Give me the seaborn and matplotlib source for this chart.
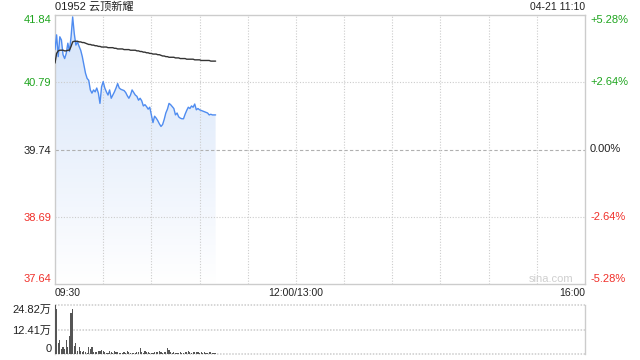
import numpy as np
import pandas as pd
import matplotlib
matplotlib.use("Agg")
import matplotlib.pyplot as plt
import seaborn as sns
from matplotlib.colors import LinearSegmentedColormap
from matplotlib.transforms import blended_transform_factory

# ---------------- data ----------------
title = "01952 云顶新耀"
stamp = "04-21 11:10"
prev_close = 39.74
price_ticks = [37.64, 38.69, 39.74, 40.79, 41.84]
price_tick_labels = ["37.64", "38.69", "39.74", "40.79", "41.84"]
pct_labels = ["-5.28%", "-2.64%", "0.00%", "+2.64%", "+5.28%"]
time_labels = ["09:30", "12:00/13:00", "16:00"]
session_minutes = 330
vol_ticks = [0, 12.41, 24.82]
vol_labels = ["0", "12.41万", "24.82万"]
watermark = "sina.com"

price = [41.30, 41.53, 41.19, 41.50, 41.45, 41.22, 41.16, 41.24, 41.40, 41.27,
         41.50, 41.81, 41.55, 41.37, 41.42, 41.35, 41.29, 41.19, 41.06, 40.93,
         40.85, 40.82, 40.67, 40.62, 40.67, 40.64, 40.70, 40.62, 40.46, 40.72,
         40.80, 40.70, 40.64, 40.59, 40.67, 40.54, 40.59, 40.64, 40.70, 40.77,
         40.70, 40.68, 40.67, 40.66, 40.63, 40.58, 40.54, 40.59, 40.67, 40.63,
         40.59, 40.57, 40.51, 40.54, 40.50, 40.42, 40.44, 40.41, 40.37, 40.40,
         40.28, 40.16, 40.26, 40.23, 40.19, 40.14, 40.10, 40.13, 40.21, 40.31,
         40.37, 40.46, 40.44, 40.41, 40.38, 40.28, 40.31, 40.25, 40.23, 40.22,
         40.22, 40.29, 40.35, 40.40, 40.38, 40.42, 40.40, 40.45, 40.36, 40.38,
         40.36, 40.35, 40.34, 40.33, 40.32, 40.31, 40.28, 40.29, 40.28, 40.28,
         40.28]

avg_price = [41.09, 41.24, 41.28, 41.29, 41.29, 41.29, 41.28, 41.28, 41.29, 41.29,
             41.35, 41.42, 41.43, 41.43, 41.43, 41.42, 41.42, 41.41, 41.41, 41.40,
             41.39, 41.38, 41.38, 41.37, 41.37, 41.36, 41.36, 41.35, 41.35, 41.34,
             41.34, 41.34, 41.34, 41.33, 41.33, 41.33, 41.33, 41.32, 41.32, 41.31,
             41.31, 41.31, 41.31, 41.30, 41.30, 41.30, 41.30, 41.29, 41.29, 41.29,
             41.29, 41.28, 41.28, 41.27, 41.27, 41.26, 41.26, 41.25, 41.25, 41.24,
             41.24, 41.23, 41.23, 41.23, 41.22, 41.22, 41.21, 41.20, 41.20, 41.19,
             41.19, 41.18, 41.18, 41.18, 41.18, 41.17, 41.17, 41.17, 41.16, 41.16,
             41.16, 41.16, 41.15, 41.15, 41.15, 41.15, 41.15, 41.14, 41.14, 41.14,
             41.14, 41.13, 41.13, 41.13, 41.13, 41.13, 41.13, 41.12, 41.12, 41.12,
             41.12]

volume = [24.8, 22.8, 5.5, 7.1, 2.5, 3.5, 2.5, 7.1, 3.3, 9.1,
          20.9, 22.8, 4.1, 5.8, 1.7, 3.3, 1.7, 1.2, 1.7, 1.2,
          0.5, 3.3, 2.5, 3.3, 1.2, 1.2, 1.2, 1.7, 1.7, 2.2,
          1.7, 0.8, 0.5, 0.5, 1.7, 0.8, 0.5, 1.7, 0.8, 1.2,
          0.3, 0.3, 0.5, 0.8, 0.3, 1.7, 0.8, 0.5, 0.5, 0.5,
          0.5, 1.2, 0.8, 2.8, 0.8, 0.5, 1.7, 0.8, 1.2, 0.3,
          0.5, 0.5, 0.8, 1.2, 0.8, 1.3, 0.8, 0.3, 0.8, 0.8,
          2.8, 2.2, 0.8, 0.5, 0.8, 0.5, 0.3, 0.5, 0.8, 0.5,
          0.5, 0.8, 0.8, 1.7, 0.8, 0.5, 0.8, 1.2, 0.8, 0.8,
          0.5, 1.2, 0.5, 0.8, 0.5, 0.5, 1.2, 0.8, 0.5, 0.3,
          0.5]

df = pd.DataFrame({"minute": np.arange(len(price)), "price": price,
                   "avg": avg_price, "volume": volume})

# ---------------- style ----------------
sns.set_theme(style="white")
FONT = ["Liberation Sans", "Noto Sans CJK SC", "DejaVu Sans"]
plt.rcParams["font.family"] = FONT
GREEN = "#1fa51f"
RED = "#f0302a"
DARK = "#222222"
GRID = "#cccccc"

fig = plt.figure(figsize=(6.4, 3.6), dpi=100)
W, H = 640, 360
ax = fig.add_axes([55 / W, 1 - 284 / H, 530 / W, 269 / H])
axv = fig.add_axes([55 / W, 1 - 354 / H, 530 / W, 49 / H])

ymin, ymax = price_ticks[0], price_ticks[-1]

# ---------------- price panel ----------------
poly = ax.fill_between(df["minute"], df["price"], ymin, color="none", lw=0)
grad = np.linspace(1, 0, 256).reshape(-1, 1)
cmap = LinearSegmentedColormap.from_list("g", ["#ffffff", "#eaf1fc", "#d5e4fa"])
im = ax.imshow(grad, extent=[df["minute"].min(), df["minute"].max(), ymin, max(price)],
               aspect="auto", cmap=cmap, origin="upper", zorder=1)
im.set_clip_path(poly.get_paths()[0], transform=ax.transData)

# grid
for t in price_ticks[1:-1]:
    if t == prev_close:
        ax.axhline(t, color="#b0b0b0", lw=0.8, ls=(0, (3, 2)), zorder=2)
    else:
        ax.axhline(t, color=GRID, lw=0.8, ls=(0, (1, 1.5)), zorder=2)
for m in range(30, session_minutes, 30):
    ax.axvline(m, color=GRID, lw=0.8, ls=(0, (1, 1.5)), zorder=2)

sns.lineplot(data=df, x="minute", y="price", ax=ax, color="#4f8cf0", lw=1.0, zorder=4)
sns.lineplot(data=df, x="minute", y="avg", ax=ax, color="#333333", lw=1.0, zorder=5)

ax.set_xlim(0, session_minutes)
ax.set_ylim(ymin, ymax)
ax.set_xlabel("")
ax.set_ylabel("")
ax.set_xticks([])
ax.set_yticks(price_ticks)
ax.set_yticklabels(price_tick_labels)
ax.tick_params(axis="y", length=0, pad=2.5, labelsize=8)
for lbl, t in zip(ax.get_yticklabels(), price_ticks):
    if t > prev_close:
        lbl.set_color(GREEN)
    elif t < prev_close:
        lbl.set_color(RED)
    else:
        lbl.set_color(DARK)
    if t == ymax:
        lbl.set_va("top")
    elif t == ymin:
        lbl.set_va("bottom")
for s in ax.spines.values():
    s.set_color(GRID)
    s.set_linewidth(1.0)

# right-side percent labels
tr = blended_transform_factory(ax.transAxes, ax.transData)
for t, lab in zip(price_ticks, pct_labels):
    col = GREEN if t > prev_close else (RED if t < prev_close else DARK)
    va = "top" if t == ymax else ("bottom" if t == ymin else "center")
    ax.text(1.0 + 5 / 530, t, lab, transform=tr, ha="left", va=va, color=col, fontsize=8)

# title and stamp
ax.text(0, 1.0 + 8 / 269, title, transform=ax.transAxes, ha="left", va="center",
        fontsize=8, color=DARK, family=FONT)
ax.text(1.0, 1.0 + 8 / 269, stamp, transform=ax.transAxes, ha="right", va="center",
        fontsize=7.5, color=DARK)

# time labels
trx = blended_transform_factory(ax.transData, ax.transAxes)
time_pos = [0, 150, session_minutes]
has = ["left", "center", "right"]
for p, lab, ha in zip(time_pos, time_labels, has):
    ax.text(p, -9 / 269, lab, transform=trx, ha=ha, va="center", fontsize=7.5, color=DARK)

# watermark
ax.text(1.0 - 12 / 530, 5 / 269, watermark, transform=ax.transAxes, ha="right", va="center",
        fontsize=8, color="#cfcfcf")

# ---------------- volume panel ----------------
for t in vol_ticks:
    axv.axhline(t, color=GRID, lw=1.1, ls=(0, (1, 1)), zorder=1, clip_on=False)
axv.bar(df["minute"], df["volume"], width=0.7, color="#555555", linewidth=0,
        edgecolor="none", zorder=3)
axv.set_xlim(0, session_minutes)
axv.set_ylim(0, vol_ticks[-1])
axv.set_xticks([])
axv.set_yticks(vol_ticks)
axv.set_yticklabels(vol_labels, family=FONT)
axv.tick_params(axis="y", length=0, pad=2.5, labelsize=8, labelcolor=DARK)
vl = axv.get_yticklabels()
vl[0].set_va("bottom")
vl[-1].set_va("top")
axv.spines["top"].set_visible(False)
axv.spines["bottom"].set_visible(False)
for k in ("left", "right"):
    axv.spines[k].set_color(GRID)
    axv.spines[k].set_linewidth(1.0)
axv.set_xlabel("")
axv.set_ylabel("")

fig.savefig("out.png", dpi=100)
